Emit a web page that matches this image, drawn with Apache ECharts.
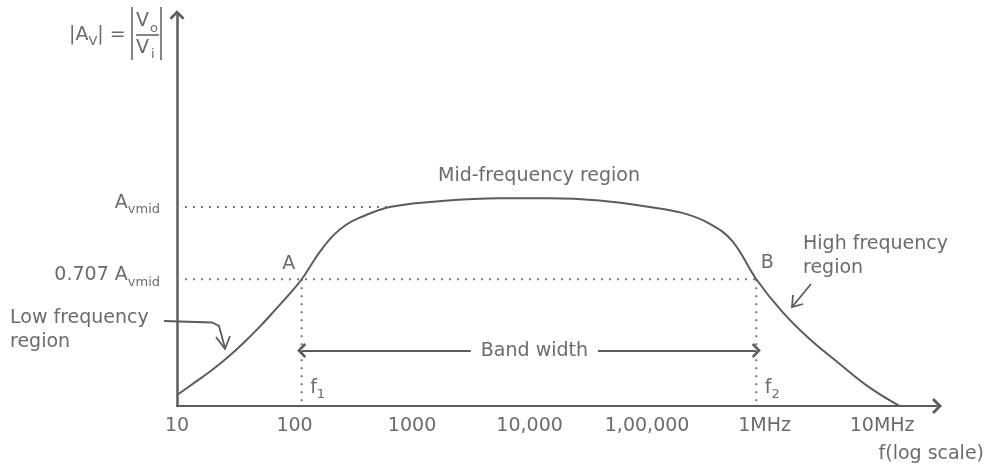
<!DOCTYPE html>
<html>
<head>
<meta charset="utf-8">
<script src="https://cdn.jsdelivr.net/npm/echarts@6/dist/echarts.min.js"></script>
<style>
  html, body { margin: 0; padding: 0; background: #fff; }
  #chart { width: 987px; height: 466px; }
</style>
</head>
<body>
<div id="chart"></div>
<script>
// Amplifier frequency response: |Av| relative to the mid-band gain, on a log frequency axis.
const freqHz = [10, 13.8, 19.1, 26.4, 36.6, 50.7, 70.3, 97.3, 115, 135, 164, 213, 277, 359, 646,
  1500, 5560, 14790, 39360, 104700, 199500, 338800, 531000, 850000,
  1410000, 2390000, 4310000, 7740000, 13900000];
const gainRel = [0.238, 0.285, 0.333, 0.387, 0.448, 0.515, 0.589, 0.664, 0.707, 0.757, 0.818, 0.884, 0.929, 0.957, 1.0,
  1.021, 1.035, 1.035, 1.026, 1.0, 0.976, 0.933, 0.862, 0.707,
  0.576, 0.467, 0.366, 0.270, 0.195];

const tickValues = [10, 100, 1000, 10000, 100000, 1000000, 10000000];
const tickText = ['10', '100', '1000', '10,000', '1,00,000', '1MHz', '10MHz'];

const midGain = 1;          // A_vmid
const cutoffGain = 0.707;   // 0.707 A_vmid
const f1 = 115;             // lower cut-off
const f2 = 850000;          // upper cut-off
const midGuideEnd = 646;    // where the A_vmid guide meets the curve
const bandArrowGain = 0.418;
const bandLabelFreq = 11000;

const X_MIN = 10, X_MAX = 2.93e7;
const Y_MIN = 0.1935, Y_MAX = 1.778;

const FONT = 'DejaVu Sans';
const TEXT = '#6b6b6b';
const LINE = '#5c5c5c';
const DOT = '#787878';
const chevron = 'path://M0,8 L8,0 L16,8 L14,10 L8,4 L2,10 Z';

// rich styles for axis/mark labels (ECharts label style keys)
const subRich = {
  m: { fontSize: 19, fontFamily: FONT, color: TEXT, lineHeight: 22 },
  s: { fontSize: 13, fontFamily: FONT, color: TEXT, padding: [14, 0, 0, 0] }
};
// the same for graphic text (zrender style keys)
const subRichG = {
  m: { fontSize: 19, fontFamily: FONT, fill: TEXT, lineHeight: 22 },
  s: { fontSize: 13, fontFamily: FONT, fill: TEXT, padding: [14, 0, 0, 0] }
};

function guide(name, pts) {
  return {
    name, type: 'line', data: pts, showSymbol: false, silent: true, z: 1,
    lineStyle: { color: DOT, width: 2, type: [2, 6] }
  };
}

function labelPoint(coord, text, offset) {
  return { coord, label: { show: true, formatter: text, offset } };
}

function txt(x, y, text, extra) {
  return { type: 'text', x, y, style: Object.assign({ text, font: '19px "DejaVu Sans"', fill: TEXT,
    verticalAlign: 'middle' }, extra || {}) };
}

function stroke(type, shape, w) {
  return { type, shape, style: { stroke: LINE, lineWidth: w || 1.8, fill: null } };
}

const chart = echarts.init(document.getElementById('chart'));
chart.setOption({
  animation: false,
  backgroundColor: '#fff',
  textStyle: { fontFamily: FONT },
  grid: { left: 177, right: 49, top: 15, bottom: 60 },
  xAxis: {
    type: 'log', logBase: 10, min: X_MIN, max: X_MAX,
    axisLine: { show: true, onZero: false, symbol: ['none', chevron], symbolSize: [17, 10],
      lineStyle: { color: LINE, width: 2 } },
    axisTick: { show: false }, splitLine: { show: false }, minorTick: { show: false },
    axisLabel: {
      show: true, showMaxLabel: false, margin: 11, color: TEXT, fontSize: 19, fontFamily: FONT,
      formatter: v => {
        const i = tickValues.findIndex(t => Math.abs(Math.log10(t) - Math.log10(v)) < 1e-6);
        return i >= 0 ? tickText[i] : '';
      }
    },
    name: 'f(log scale)', nameLocation: 'end', nameGap: 47,
    nameTextStyle: { color: TEXT, fontSize: 19, fontFamily: FONT, align: 'right', verticalAlign: 'top',
      padding: [39, 0, 0, 0] }
  },
  yAxis: {
    type: 'value', min: Y_MIN, max: Y_MAX,
    axisLine: { show: true, symbol: ['none', chevron], symbolSize: [15, 11],
      lineStyle: { color: LINE, width: 2.5 } },
    axisTick: { show: false }, splitLine: { show: false },
    axisLabel: {
      customValues: [cutoffGain, midGain], margin: 17, padding: [0, 0, 8, 0],
      formatter: v => (v === midGain ? '{m|A}{s|vmid}' : '{m|0.707 A}{s|vmid}'),
      rich: subRich
    }
  },
  series: [
    guide('midGuide', [[X_MIN, midGain], [midGuideEnd, midGain]]),
    guide('cutoffGuide', [[X_MIN, cutoffGain], [f2, cutoffGain]]),
    guide('f1Guide', [[f1, cutoffGain], [f1, Y_MIN]]),
    guide('f2Guide', [[f2, cutoffGain], [f2, Y_MIN]]),
    {
      name: 'gain', type: 'line', smooth: 0.4, showSymbol: false, z: 3,
      data: freqHz.map((f, i) => [f, gainRel[i]]),
      lineStyle: { color: LINE, width: 2 },
      markPoint: {
        symbol: 'circle', symbolSize: 1, itemStyle: { color: 'transparent' }, silent: true,
        label: { color: TEXT, fontSize: 19, fontFamily: FONT, rich: subRich },
        data: [
          labelPoint([f1, cutoffGain], 'A', [-13, -15]),
          labelPoint([f2, cutoffGain], 'B', [11, -16]),
          labelPoint([f1, Y_MIN], '{m|f}{s|1}', [16, -18]),
          labelPoint([f2, Y_MIN], '{m|f}{s|2}', [16, -18])
        ]
      }
    },
    {
      name: 'bandwidth', type: 'line', data: [[f1, bandArrowGain]], showSymbol: false,
      lineStyle: { width: 0 }, z: 4,
      markLine: {
        silent: true, symbol: [chevron, chevron], symbolSize: [15, 9],
        label: { show: false },
        lineStyle: { color: LINE, width: 2, type: 'solid' },
        data: [[{ coord: [f1, bandArrowGain] }, { coord: [f2, bandArrowGain] }]]
      },
      markPoint: {
        z: 10, symbol: 'circle', symbolSize: 1, itemStyle: { color: 'transparent' }, silent: true,
        label: { color: TEXT, fontSize: 19, fontFamily: FONT, backgroundColor: '#fff', padding: [2, 10] },
        data: [labelPoint([bandLabelFreq, bandArrowGain], 'Band width', [0, 0])]
      }
    }
  ],
  graphic: [
    // |Av| = |Vo / Vi|
    { type: 'text', x: 69, y: 35, style: { text: '{m||A}{s|V}{m|| =}', rich: subRichG, verticalAlign: 'middle' } },
    stroke('line', { x1: 132, y1: 7, x2: 132, y2: 60 }, 1.5),
    stroke('line', { x1: 161, y1: 7, x2: 161, y2: 60 }, 1.5),
    stroke('line', { x1: 136, y1: 35, x2: 159, y2: 35 }, 1.5),
    txt(136, 21, 'V'),
    txt(150, 29, 'o', { font: '13px "DejaVu Sans"' }),
    txt(136, 48, 'V'),
    txt(151, 55, 'i', { font: '13px "DejaVu Sans"' }),
    // region captions
    txt(539, 176, 'Mid-frequency region', { align: 'center' }),
    txt(803, 256, 'High frequency\nregion', { lineHeight: 24 }),
    txt(10, 330, 'Low frequency\nregion', { lineHeight: 24 }),
    // callout arrows
    stroke('polyline', { points: [[164, 321], [212, 322.5], [219, 326], [225, 348]] }),
    stroke('polyline', { points: [[216, 337], [225, 349], [230, 336]] }),
    stroke('polyline', { points: [[811, 284], [792, 307]] }),
    stroke('polyline', { points: [[793, 295], [792, 307], [803, 304]] })
  ]
});
</script>
</body>
</html>
